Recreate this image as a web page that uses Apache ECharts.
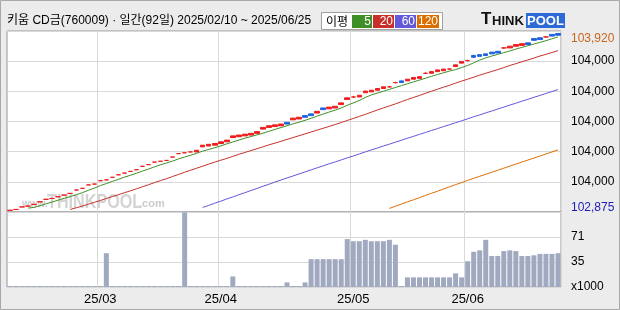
<!DOCTYPE html>
<html><head><meta charset="utf-8">
<script src="https://cdn.jsdelivr.net/npm/echarts@6/dist/echarts.min.js"></script>
<style>html,body{margin:0;padding:0;background:#ececec}#c{width:620px;height:310px}</style>
</head><body><div id="c"></div>
<script>
const titleText = '키움 CD금(760009) · 일간(92일) 2025/02/10 ~ 2025/06/25';
const dates = [
'2025/02/10','2025/02/11','2025/02/12','2025/02/13','2025/02/14','2025/02/17','2025/02/18','2025/02/19','2025/02/20','2025/02/21','2025/02/24','2025/02/25','2025/02/26','2025/02/27','2025/02/28',
'2025/03/04','2025/03/05','2025/03/06','2025/03/07','2025/03/10','2025/03/11','2025/03/12','2025/03/13','2025/03/14','2025/03/17','2025/03/18','2025/03/19','2025/03/20','2025/03/21','2025/03/24','2025/03/25','2025/03/26','2025/03/27','2025/03/28','2025/03/31',
'2025/04/01','2025/04/02','2025/04/03','2025/04/04','2025/04/07','2025/04/08','2025/04/09','2025/04/10','2025/04/11','2025/04/14','2025/04/15','2025/04/16','2025/04/17','2025/04/18','2025/04/21','2025/04/22','2025/04/23','2025/04/24','2025/04/25','2025/04/28','2025/04/29','2025/04/30',
'2025/05/02','2025/05/07','2025/05/08','2025/05/09','2025/05/12','2025/05/13','2025/05/14','2025/05/15','2025/05/16','2025/05/19','2025/05/20','2025/05/21','2025/05/22','2025/05/23','2025/05/26','2025/05/27','2025/05/28','2025/05/29','2025/05/30',
'2025/06/02','2025/06/04','2025/06/05','2025/06/09','2025/06/10','2025/06/11','2025/06/12','2025/06/13','2025/06/16','2025/06/17','2025/06/18','2025/06/19','2025/06/20','2025/06/23','2025/06/24','2025/06/25'];
const openP = [102875,102880,102895,102900,102910,102925,102940,102945,102955,102965,102975,102995,103005,103025,103030,103050,103055,103070,103085,103095,103105,103115,103135,103145,103160,103165,103170,103190,103210,103215,103220,
103220,103250,103255,103260,103270,103280,103305,103310,103315,103320,103330,103355,103365,103370,103375,103395,103410,103415,103435,103445,103450,103480,103475,103480,103500,103530,103545,103545,103570,103575,103585,103595,103605,103630,103640,103640,103650,103655,103685,103685,103695,103700,103710,103725,103745,103760,103790,103795,103800,103810,103815,103835,103835,103845,103850,103865,103890,103895,103900,103915,103920];
const closeP = [102875,102880,102895,102900,102910,102925,102940,102945,102955,102965,102975,102995,103005,103025,103030,103050,103055,103070,103085,103095,103105,103115,103135,103145,103160,103165,103170,103190,103210,103215,103220,
103230,103260,103265,103270,103280,103290,103315,103320,103325,103330,103340,103365,103375,103380,103385,103385,103420,103425,103425,103435,103460,103470,103485,103490,103510,103540,103545,103555,103580,103585,103595,103605,103605,103630,103630,103650,103660,103665,103685,103695,103705,103710,103710,103735,103755,103760,103780,103785,103790,103800,103805,103835,103845,103855,103860,103855,103880,103885,103900,103905,103910];
const lowP = [102875,102880,102895,102900,102910,102925,102940,102945,102955,102965,102975,102995,103005,103025,103030,103050,103055,103070,103085,103095,103105,103115,103135,103145,103160,103165,103170,103190,103210,103215,103220,
103220,103250,103255,103260,103270,103280,103305,103310,103315,103320,103330,103355,103365,103370,103375,103385,103410,103415,103425,103435,103450,103470,103475,103480,103500,103530,103540,103545,103570,103575,103585,103595,103600,103625,103630,103640,103650,103655,103680,103685,103695,103700,103705,103725,103745,103755,103775,103785,103790,103800,103805,103830,103835,103845,103850,103855,103880,103885,103895,103905,103910];
const highP = [102875,102880,102895,102900,102910,102925,102940,102945,102955,102965,102975,102995,103005,103025,103030,103050,103055,103070,103085,103095,103105,103115,103135,103145,103160,103165,103170,103190,103210,103215,103220,
103230,103260,103265,103270,103280,103290,103315,103320,103325,103330,103340,103365,103375,103380,103385,103395,103420,103425,103435,103445,103460,103480,103485,103490,103510,103540,103550,103555,103580,103585,103595,103605,103610,103635,103640,103650,103660,103665,103690,103695,103705,103710,103715,103735,103755,103765,103795,103795,103800,103810,103815,103840,103845,103855,103860,103865,103890,103895,103905,103915,103920];
const volume = [0,0,0,0,0,0,0,0,0,0, 0,0,0,0,0,0,48,0,0,0, 0,0,0,0,0,0,0,0,0,106, 0,0,0,0,0,0,0,15,0,0, 0,0,0,0,0,0,6.5,0,0,6.5,
39.5,39.5,39.5,39.5,39.5,39.5,68,65,65,67, 65,65,65,67,60,0,13.7,13.7,13.7,13.7, 13.7,13.7,13.7,13.7,19.4,13.7,36.6,50,52,67, 44,44,51,52,51,44,44,45,47,47, 47,48];
const ma5Start = 3;
const ma5Vals = [102888,102892,102902,102914,102924,102935,102946,102956,102967,102979,102993,103006,103021,103033,103046,103058,103071,103082,103094,103107,103119,103132,103144,103155,103166,103179,103190,103201,103212,103225,103235,103245,103256,103268,103279,103290,103301,103311,103321,103331,103342,103353,103364,103375,103386,103396,103407,103419,103432,103444,103456,103467,103480,103496,103510,103524,103542,103557,103568,103579,103590,103601,103612,103623,103634,103645,103656,103667,103678,103688,103698,103707,103719,103731,103747,103763,103776,103787,103797,103807,103817,103828,103838,103848,103858,103868,103878,103889,103900];
const ma20Start = 10;
const ma20Vals = [102880,102890,102900,102911,102922,102933,102945,102956,102967,102979,102990,103002,103014,103026,103039,103051,103062,103075,103087,103100,103112,103124,103136,103148,103160,103171,103182,103194,103206,103217,103228,103239,103250,103262,103272,103283,103294,103305,103316,103327,103338,103349,103360,103371,103382,103394,103406,103418,103430,103442,103455,103468,103480,103492,103504,103517,103530,103542,103554,103567,103579,103591,103603,103614,103627,103639,103650,103662,103674,103685,103696,103707,103719,103731,103742,103753,103764,103775,103787,103797,103808,103819];
const ma60Start = 32;
const ma60Vals = [102892,102904,102917,102929,102942,102954,102967,102979,102992,103004,103017,103029,103042,103054,103066,103078,103090,103102,103114,103126,103138,103150,103161,103173,103185,103196,103208,103220,103232,103243,103255,103266,103278,103289,103301,103312,103324,103335,103347,103358,103370,103381,103393,103404,103416,103428,103439,103451,103462,103474,103485,103497,103508,103520,103531,103543,103554,103566,103577,103589];
const ma120Start = 63;
const ma120Vals = [102886,102899,102912,102925,102937,102950,102963,102976,102988,103001,103014,103027,103039,103052,103064,103076,103088,103100,103112,103124,103136,103148,103160,103172,103184,103196,103208,103220,103232];
const xTickDates = ['2025/03/04','2025/04/01','2025/05/02','2025/06/02'];
const xTickLabels = ['25/03','25/04','25/05','25/06'];
const priceGridLabels = ['','104,000','104,000','104,000','104,000','104,000',''];
const extremeValues = [103920, 102875];
const extremeLabels = ['103,920','102,875'];
const volTickLabels = ['x1000','35','71',''];
const legendNames = ['5','20','60','120'];

const PRICE_MIN = 102865, PRICE_MAX = 103935;
const F = "'Liberation Sans','Noto Sans CJK KR',sans-serif";
const C5 = '#3f8f28', C20 = '#c8302a', C60 = '#6258dc', C120 = '#dc6e00';
const legendColors = [C5, C20, C60, C120];

function pad(start, vals){ return new Array(start).fill(null).concat(vals); }
const ohlc = dates.map((d,i)=>[openP[i], closeP[i], lowP[i], highP[i]]);

const chart = echarts.init(document.getElementById('c'), null, {renderer:'canvas'});
const gridLine = {show:true, lineStyle:{color:'#d9d9d9', width:1}};
const xSplit = {show:true, interval:(i,v)=>xTickDates.indexOf(v)>=0, lineStyle:{color:'#d9d9d9', width:1}};

const graphics = [
  {type:'text', x:7, y:21, style:{text:titleText, fontFamily:F, fontSize:12, fill:'#000', verticalAlign:'middle', textVerticalAlign:'middle'}},
  {type:'rect', shape:{x:321.5, y:12.5, width:121, height:17}, style:{fill:'#fff', stroke:'#a0a0a0', lineWidth:1}},
  {type:'text', x:326, y:21.5, style:{text:'이평', fontFamily:"'Noto Sans CJK KR',sans-serif", fontSize:12, fill:'#000', verticalAlign:'middle', textVerticalAlign:'middle'}},
];
const lgX = [352, 373, 395, 417], lgW = [20, 21, 21, 22];
legendNames.forEach((n, k) => {
  graphics.push({type:'rect', shape:{x:lgX[k], y:15, width:lgW[k], height:13}, style:{fill:legendColors[k]}});
  graphics.push({type:'text', x:lgX[k]+lgW[k]-1, y:21.5, style:{text:n, fontFamily:F, fontSize:12, fill:'#fff', align:'right', textAlign:'right', verticalAlign:'middle', textVerticalAlign:'middle'}});
});
graphics.push(
  {type:'text', x:481, y:28, style:{text:'T', fontFamily:"'Liberation Sans',sans-serif", fontWeight:'bold', fontSize:17, fill:'#111', verticalAlign:'bottom', textVerticalAlign:'bottom'}},
  {type:'text', x:492, y:27.5, style:{text:'HINK', fontFamily:"'Liberation Sans',sans-serif", fontWeight:'bold', fontSize:13, fill:'#111', verticalAlign:'bottom', textVerticalAlign:'bottom'}},
  {type:'rect', shape:{x:526, y:13, width:39, height:15}, style:{fill:'#2c6ad8'}},
  {type:'text', x:545.5, y:21, style:{text:'POOL', fontFamily:"'Liberation Sans',sans-serif", fontWeight:'bold', fontSize:13, fill:'#fff', align:'center', textAlign:'center', verticalAlign:'middle', textVerticalAlign:'middle'}},
  {type:'text', x:22, y:209, z:1, style:{text:'www.', fontFamily:"'Liberation Sans',sans-serif", fontWeight:'bold', fontSize:10, fill:'#cccccc', verticalAlign:'bottom', textVerticalAlign:'bottom'}},
  {type:'text', x:47, y:213, z:1, scaleX:0.77, style:{text:'THINKPOOL', fontFamily:"'Liberation Sans',sans-serif", fontWeight:'bold', fontSize:21, fill:'#d4d4d4', verticalAlign:'bottom', textVerticalAlign:'bottom'}},
  {type:'text', x:139, y:209, z:1, style:{text:'.com', fontFamily:"'Liberation Sans',sans-serif", fontWeight:'bold', fontSize:11, fill:'#cccccc', verticalAlign:'bottom', textVerticalAlign:'bottom'}},
  {type:'rect', shape:{x:0.5, y:0.5, width:619, height:309}, z:10, style:{fill:'none', stroke:'#a8a8a8', lineWidth:1}}
);

const option = {
  animation:false,
  backgroundColor:'#ececec',
  grid:[
    {left:7, right:59, top:31, height:181, show:true, backgroundColor:'#fff', borderColor:'#969696', borderWidth:1},
    {left:7, right:59, top:212, height:75, show:true, backgroundColor:'#fff', borderColor:'#969696', borderWidth:1}
  ],
  xAxis:[
    {type:'category', gridIndex:0, data:dates, boundaryGap:true, axisLine:{show:false}, axisTick:{show:false}, axisLabel:{show:false}, splitLine:xSplit},
    {type:'category', gridIndex:1, data:dates, boundaryGap:true, axisLine:{show:false}, axisTick:{show:false},
     axisLabel:{interval:(i,v)=>xTickDates.indexOf(v)>=0, formatter:(v)=>xTickLabels[xTickDates.indexOf(v)], color:'#000', fontFamily:F, fontSize:13, margin:6},
     splitLine:xSplit}
  ],
  yAxis:[
    {type:'value', gridIndex:0, position:'right', min:PRICE_MIN, max:PRICE_MAX, axisLine:{show:false}, axisTick:{show:false}, splitLine:{show:false},
     axisLabel:{customValues:extremeValues, margin:10, fontFamily:F, fontSize:12,
       formatter:(v)=> v===extremeValues[0] ? '{h|'+extremeLabels[0]+'}' : '{l|'+extremeLabels[1]+'}',
       rich:{h:{color:'#c8641e', fontFamily:F, fontSize:12, padding:[11,0,0,0]}, l:{color:'#1c1cb8', fontFamily:F, fontSize:12, padding:[0,0,6,0]}}}},
    {type:'value', gridIndex:0, position:'right', min:0, max:6, interval:1, axisLine:{show:false}, axisTick:{show:false}, splitLine:gridLine,
     axisLabel:{margin:10, fontFamily:F, fontSize:12, color:'#000', formatter:(v,i)=>priceGridLabels[i]}},
    {type:'value', gridIndex:1, position:'right', min:0, max:106.5, interval:35.5, axisLine:{show:false}, axisTick:{show:false}, splitLine:gridLine,
     axisLabel:{margin:10, fontFamily:F, fontSize:12, color:'#000', formatter:(v,i)=>volTickLabels[i]}}
  ],
  series:[
    {type:'line', name:'MA120', xAxisIndex:0, yAxisIndex:0, data:pad(ma120Start, ma120Vals), symbol:'none', lineStyle:{width:1, color:C120}, z:2, silent:true},
    {type:'line', name:'MA60', xAxisIndex:0, yAxisIndex:0, data:pad(ma60Start, ma60Vals), symbol:'none', lineStyle:{width:1, color:C60}, z:2, silent:true},
    {type:'line', name:'MA20', xAxisIndex:0, yAxisIndex:0, data:pad(ma20Start, ma20Vals), symbol:'none', lineStyle:{width:1, color:C20}, z:2, silent:true},
    {type:'line', name:'MA5', xAxisIndex:0, yAxisIndex:0, data:pad(ma5Start, ma5Vals), symbol:'none', lineStyle:{width:1, color:C5}, z:2, silent:true},
    {type:'candlestick', xAxisIndex:0, yAxisIndex:0, data:ohlc, barWidth:5, z:3,
     itemStyle:{color:'#f01c1c', color0:'#2062e0', borderColor:'#f01c1c', borderColor0:'#2062e0', borderColorDoji:'#f01c1c', borderWidth:1}},
    {type:'bar', xAxisIndex:1, yAxisIndex:2, data:volume, barWidth:5, barMinHeight:1, itemStyle:{color:'#a0a9bf'}}
  ],
  graphic:graphics
};
chart.setOption(option);
</script>
</body></html>
